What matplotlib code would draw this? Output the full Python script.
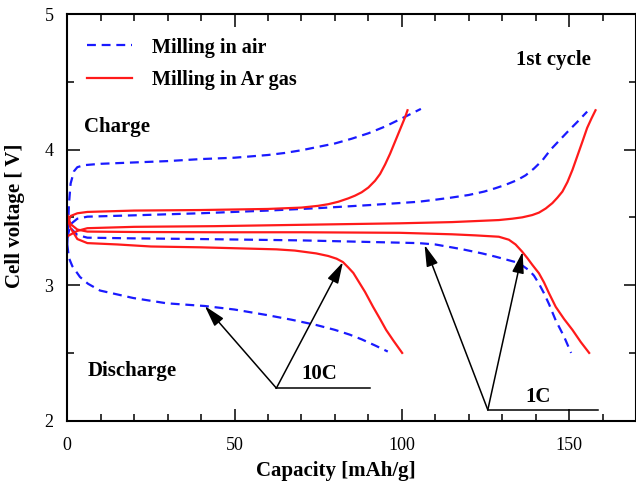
import matplotlib
matplotlib.use('Agg')
import matplotlib.pyplot as plt
from matplotlib.ticker import MultipleLocator

plt.rcParams['font.family'] = ['Liberation Serif', 'DejaVu Serif']

# Milling in air (blue dashed)
air_10c_chg_x = [0, 0.5, 1, 2, 3, 5, 10, 20, 30, 40, 50, 60, 65, 70, 75, 80, 85, 90, 95, 100, 105.7]
air_10c_chg_y = [3.30, 3.60, 3.75, 3.84, 3.87, 3.885, 3.895, 3.905, 3.915, 3.93, 3.94, 3.96, 3.975,
                 3.995, 4.02, 4.045, 4.08, 4.12, 4.17, 4.23, 4.30]
air_1c_chg_x = [0, 1, 3, 6, 20, 39.7, 60, 75, 90, 105, 110, 114.6, 120, 124.6, 128, 131, 134.5, 137,
                139.5, 142, 144.5, 147, 149.5, 152.5, 155.4]
air_1c_chg_y = [3.35, 3.45, 3.49, 3.505, 3.515, 3.53, 3.55, 3.568, 3.59, 3.615, 3.63, 3.645, 3.665,
                3.69, 3.715, 3.74, 3.775, 3.81, 3.86, 3.92, 4.0, 4.065, 4.13, 4.205, 4.28]
air_10c_dis_x = [0, 0.5, 1.5, 3.8, 6.2, 9.8, 19.7, 29.7, 41.1, 50, 59.5, 67, 74.4, 80, 84.4, 88, 92, 95.8]
air_10c_dis_y = [3.30, 3.20, 3.14, 3.06, 3.01, 2.96, 2.905, 2.866, 2.846, 2.82, 2.78, 2.745, 2.706,
                 2.67, 2.635, 2.60, 2.555, 2.51]
air_1c_dis_x = [0, 1, 3, 6, 20, 39.7, 70, 105, 110, 118, 124, 128, 131, 134, 136, 138, 139.5, 141,
                142.5, 144, 146, 148.5, 150.6]
air_1c_dis_y = [3.52, 3.42, 3.37, 3.35, 3.345, 3.34, 3.33, 3.31, 3.30, 3.265, 3.234, 3.21, 3.19, 3.17,
                3.145, 3.11, 3.07, 3.01, 2.94, 2.86, 2.74, 2.62, 2.50]

# Milling in Ar gas (red solid)
ar_10c_chg_x = [0, 1, 3, 6, 20, 40, 60, 70, 75, 78, 81, 84, 86, 88, 90, 92, 93.5, 95, 96.5, 98,
                99.5, 101, 101.7]
ar_10c_chg_y = [3.45, 3.51, 3.53, 3.54, 3.55, 3.554, 3.562, 3.572, 3.585, 3.597, 3.615, 3.64, 3.66,
                3.685, 3.72, 3.77, 3.82, 3.89, 3.97, 4.06, 4.15, 4.24, 4.29]
ar_1c_chg_x = [0, 1.5, 3, 6, 20, 44, 70, 99.3, 115, 129, 133, 136, 139, 141, 143, 145, 146.5, 148,
               149.5, 151, 152.5, 154, 155.4, 156.7, 157.9]
ar_1c_chg_y = [3.36, 3.38, 3.40, 3.42, 3.43, 3.435, 3.445, 3.456, 3.465, 3.48, 3.49, 3.50, 3.517,
               3.535, 3.565, 3.605, 3.645, 3.69, 3.76, 3.85, 3.955, 4.06, 4.16, 4.23, 4.29]
ar_10c_dis_x = [0, 1, 3, 6, 15, 25, 39.7, 62.5, 68, 74.4, 78, 80.5, 82.4, 84, 85.5, 87, 89, 91.4,
                93.5, 95.3, 97.5, 100.1]
ar_10c_dis_y = [3.50, 3.42, 3.34, 3.31, 3.30, 3.285, 3.279, 3.264, 3.255, 3.234, 3.215, 3.195, 3.17,
                3.13, 3.09, 3.03, 2.95, 2.84, 2.75, 2.67, 2.59, 2.50]
ar_1c_dis_x = [0, 1, 3, 6, 20, 44, 70, 99.3, 115, 122, 129, 132, 134, 136, 137.5, 139, 141, 142.5,
               144, 146, 148.5, 151, 153.5, 156]
ar_1c_dis_y = [3.52, 3.45, 3.41, 3.395, 3.392, 3.39, 3.39, 3.386, 3.375, 3.367, 3.357, 3.335, 3.30,
               3.246, 3.20, 3.15, 3.087, 3.02, 2.94, 2.84, 2.75, 2.67, 2.58, 2.50]

# annotation points (arrow tips and the corner they come from)
c10_corner = (62.5, 2.24)
c10_line_end = 90.4
c10_tips = [(41.1, 2.846), (82.4, 3.17)]
c1_corner = (125.7, 2.08)
c1_line_end = 158.5
c1_tips = [(106.8, 3.296), (136.1, 3.246)]

blue = '#1a1aff'
red = '#ff1a1a'
bold = dict(fontweight='bold', fontsize=15)

fig = plt.figure(figsize=(6.36, 4.83), dpi=100)
ax = fig.add_axes([0.1058, 0.129, 0.8942, 0.842])

dash = (0, (4.0, 2.6))
ax.plot(air_10c_chg_x, air_10c_chg_y, color=blue, lw=1.6, ls=dash, label='Milling in air')
ax.plot(air_1c_chg_x, air_1c_chg_y, color=blue, lw=1.6, ls=dash)
ax.plot(air_10c_dis_x, air_10c_dis_y, color=blue, lw=1.6, ls=dash)
ax.plot(air_1c_dis_x, air_1c_dis_y, color=blue, lw=1.6, ls=dash)
ax.plot(ar_10c_chg_x, ar_10c_chg_y, color=red, lw=1.6, label='Milling in Ar gas')
ax.plot(ar_1c_chg_x, ar_1c_chg_y, color=red, lw=1.6)
ax.plot(ar_10c_dis_x, ar_10c_dis_y, color=red, lw=1.6)
ax.plot(ar_1c_dis_x, ar_1c_dis_y, color=red, lw=1.6)

# arrows
arrow = dict(arrowstyle='-|>,head_length=1.3,head_width=0.36', color='black',
             lw=1.1, mutation_scale=10, shrinkA=0, shrinkB=0)
for corner, end, tips in [(c10_corner, c10_line_end, c10_tips), (c1_corner, c1_line_end, c1_tips)]:
    ax.plot([corner[0], end], [corner[1], corner[1]], color='black', lw=1.1)
    for tip in tips:
        ax.annotate('', xy=tip, xytext=corner, arrowprops=arrow)

ax.text(75.2, 2.342, '10C', ha='center', va='center', **bold)
ax.text(140.6, 2.175, '1C', ha='center', va='center', **bold)
ax.text(5, 4.17, 'Charge', ha='left', va='center', **bold)
ax.text(6.2, 2.37, 'Discharge', ha='left', va='center', **bold)
ax.text(145.3, 4.66, '1st cycle', ha='center', va='center', **bold)

ax.legend(loc='upper left', bbox_to_anchor=(0.021, 0.962), borderaxespad=0,
          frameon=False, handlelength=2.2, handletextpad=1.0, labelspacing=0.62,
          prop=dict(weight='bold', size=14.5))

ax.set_xlim(0, 170)
ax.set_ylim(2, 5)
ax.xaxis.set_major_locator(MultipleLocator(50))
ax.xaxis.set_minor_locator(MultipleLocator(10))
ax.yaxis.set_major_locator(MultipleLocator(1))
ax.yaxis.set_minor_locator(MultipleLocator(0.5))
ax.tick_params(which='both', direction='in', top=True, right=True, labelsize=13, width=1.1)
ax.tick_params(which='major', length=9)
ax.tick_params(which='minor', length=5)
ax.tick_params(axis='x', pad=12)
ax.tick_params(axis='y', pad=10)
for s in ax.spines.values():
    s.set_linewidth(1.5)

ax.set_xlabel('Capacity [mAh/g]', **bold)
ax.set_ylabel('Cell voltage [ V]', **bold)
ax.xaxis.set_label_coords(0.472, -0.1)
ax.yaxis.set_label_coords(-0.074, 0.505)

fig.savefig('out.png', dpi=100)
